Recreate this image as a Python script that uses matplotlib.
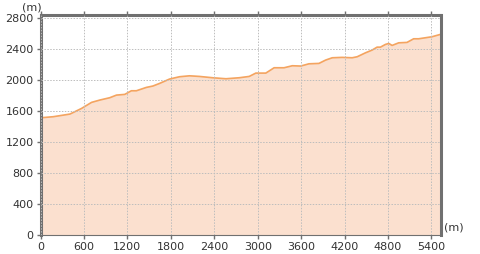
import matplotlib.pyplot as plt

# distance (m) and elevation (m)
dist = [0, 176, 406, 567, 705, 819, 956, 1049, 1163, 1255, 1324, 1461, 1552, 1645,
        1782, 1920, 2057, 2195, 2378, 2562, 2745, 2883, 2974, 3112, 3227, 3364,
        3479, 3594, 3708, 3846, 3938, 4030, 4167, 4305, 4374, 4489, 4580, 4649,
        4695, 4764, 4810, 4856, 4948, 5062, 5154, 5223, 5315, 5406, 5525]
elev = [1513, 1527, 1561, 1634, 1712, 1742, 1772, 1806, 1815, 1862, 1862, 1905, 1923, 1957,
        2013, 2043, 2055, 2047, 2030, 2017, 2030, 2047, 2090, 2090, 2159, 2159,
        2185, 2181, 2210, 2215, 2258, 2288, 2293, 2288, 2301, 2352, 2387, 2425,
        2425, 2460, 2473, 2447, 2481, 2486, 2533, 2533, 2546, 2559, 2590]

xticks = [0, 600, 1200, 1800, 2400, 3000, 3600, 4200, 4800, 5400]
yticks = [0, 400, 800, 1200, 1600, 2000, 2400, 2800]

plt.rcParams['font.family'] = 'DejaVu Sans'
fig = plt.figure(figsize=(4.8, 2.54), dpi=100)
ax = fig.add_axes([40.5/480, 1-235/254, (440.5-40.5)/480, (235-15)/254])

ax.fill_between(dist, elev, 0, color='#fbe0cf', zorder=1)
ax.plot(dist, elev, color='#f4a460', lw=1.2, zorder=2)

ax.set_xlim(0, 5525)
ax.set_ylim(0, 2840)
ax.set_xticks(xticks)
ax.set_yticks(yticks)
ax.grid(True, color='#bdbdbd', linestyle=(0, (1.5, 1.5)), lw=0.7, zorder=3)
ax.set_axisbelow(False)

for s in ['left', 'top', 'right']:
    ax.spines[s].set_color('#707070')
    ax.spines[s].set_linewidth(2.2)
ax.spines['bottom'].set_color('#707070')
ax.spines['bottom'].set_linewidth(0.8)

ax.tick_params(labelsize=8, length=3, width=1, color='#707070', labelcolor='#333333',
               top=True, direction='out', pad=2)
ax.set_xticklabels([str(v) for v in xticks])

fig.text(22/480, 1-7/254, '(m)', fontsize=8, color='#333333', ha='left', va='center')
fig.text(444/480, 1-227/254, '(m)', fontsize=8, color='#333333', ha='left', va='center')

fig.savefig('out.png', dpi=100)
